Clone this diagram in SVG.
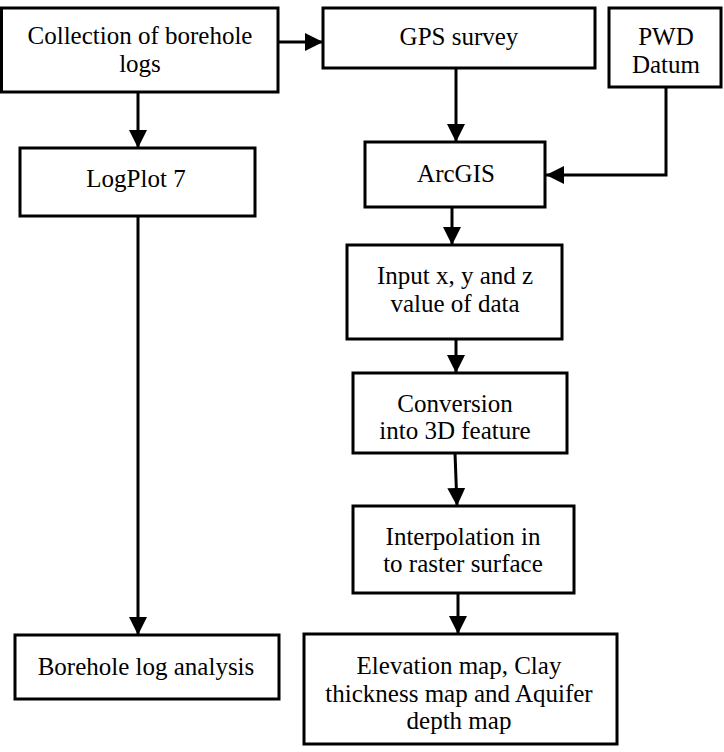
<svg xmlns="http://www.w3.org/2000/svg" width="724" height="752" viewBox="0 0 724 752">
<defs>
<style>
.box{fill:#fff;stroke:#000;stroke-width:3}
.t{font-size:25px;fill:#000;text-anchor:middle}
.c{fill:none;stroke:#000;stroke-width:3}
</style>
<marker id="ah" markerUnits="userSpaceOnUse" markerWidth="18" markerHeight="18" refX="18" refY="9" orient="auto">
<path d="M0,0 L18,9 L0,18 z" fill="#000"/>
</marker>
</defs>
<rect width="724" height="752" fill="#fff"/>
<g id="connectors">
<line class="c" x1="278" y1="42" x2="323" y2="42" marker-end="url(#ah)"/>
<line class="c" x1="138" y1="92" x2="138" y2="148" marker-end="url(#ah)"/>
<line class="c" x1="456" y1="68" x2="456" y2="142" marker-end="url(#ah)"/>
<polyline class="c" points="666,87 666,175 546,175" marker-end="url(#ah)"/>
<line class="c" x1="138" y1="216" x2="138" y2="635" marker-end="url(#ah)"/>
<line class="c" x1="452" y1="207" x2="452" y2="245" marker-end="url(#ah)"/>
<line class="c" x1="456" y1="339" x2="456" y2="373" marker-end="url(#ah)"/>
<line class="c" x1="455" y1="453" x2="457" y2="506" marker-end="url(#ah)"/>
<line class="c" x1="458" y1="593" x2="458" y2="634" marker-end="url(#ah)"/>
</g>
<g font-family="'Liberation Serif', 'Times New Roman', 'DejaVu Serif', serif">
<g id="collection">
<rect class="box" x="1.5" y="8" width="276.5" height="84"/>
<text class="t" x="140" y="44">Collection of borehole</text>
<text class="t" x="140" y="72">logs</text>
</g>
<g id="gps">
<rect class="box" x="323" y="8" width="272" height="60"/>
<text class="t" x="459" y="45">GPS survey</text>
</g>
<g id="pwd">
<rect class="box" x="609" y="8" width="112" height="79"/>
<text class="t" x="666" y="45">PWD</text>
<text class="t" x="666" y="73">Datum</text>
</g>
<g id="logplot">
<rect class="box" x="20" y="148" width="235" height="68"/>
<text class="t" x="136" y="187">LogPlot 7</text>
</g>
<g id="arcgis">
<rect class="box" x="365" y="142" width="180" height="65"/>
<text class="t" x="456" y="182">ArcGIS</text>
</g>
<g id="input">
<rect class="box" x="347" y="245" width="215" height="94"/>
<text class="t" x="455" y="284">Input x, y and z</text>
<text class="t" x="455" y="312">value of data</text>
</g>
<g id="conversion">
<rect class="box" x="353" y="373" width="214" height="80"/>
<text class="t" x="455" y="412">Conversion</text>
<text class="t" x="455" y="439">into 3D feature</text>
</g>
<g id="interpolation">
<rect class="box" x="353" y="506" width="221" height="87"/>
<text class="t" x="463" y="545">Interpolation in</text>
<text class="t" x="463" y="572">to raster surface</text>
</g>
<g id="borehole">
<rect class="box" x="15" y="635" width="264" height="64"/>
<text class="t" x="146" y="675">Borehole log analysis</text>
</g>
<g id="elevation">
<rect class="box" x="304" y="634" width="313" height="110"/>
<text class="t" x="459" y="674">Elevation map, Clay</text>
<text class="t" x="459" y="702">thickness map and Aquifer</text>
<text class="t" x="459" y="729">depth map</text>
</g>
</g>
</svg>
